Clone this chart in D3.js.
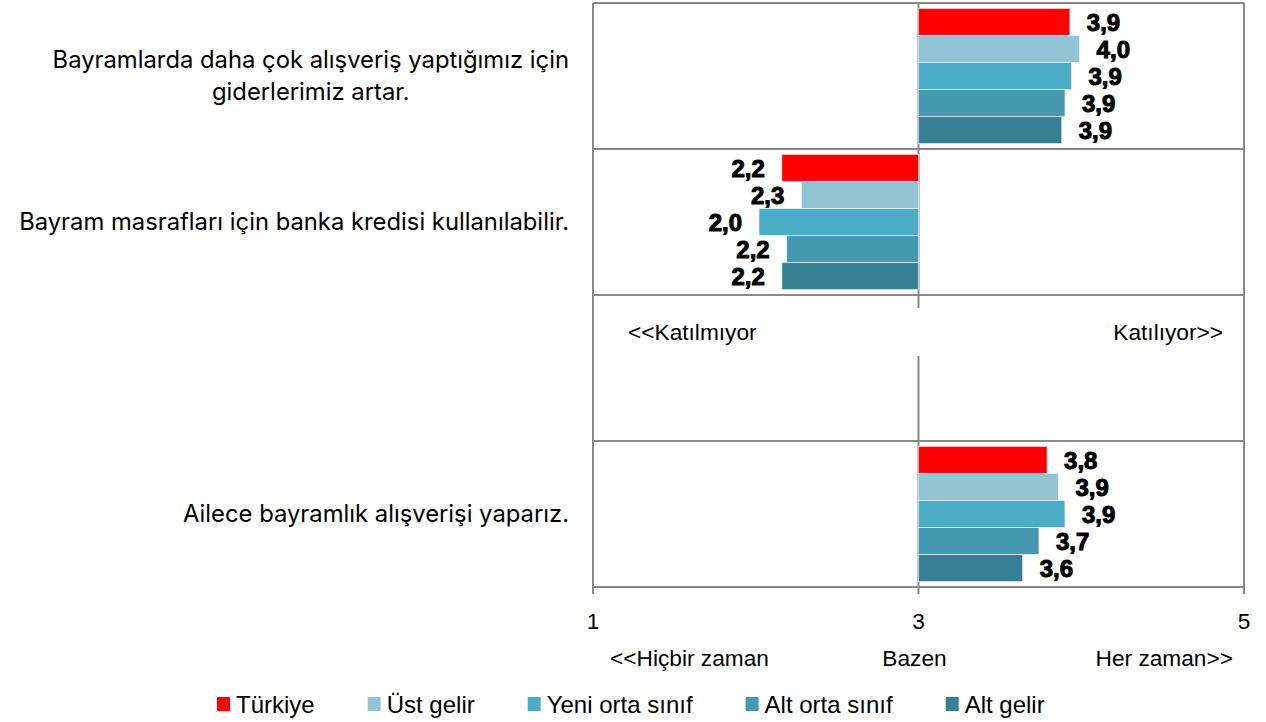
<!DOCTYPE html>
<html lang="tr">
<head>
    <meta charset="UTF-8">
    <title>Bayram harcamaları</title>
    <script src="https://d3js.org/d3.v7.min.js"></script>
    <style>
        body { margin: 0; background: #fff; }
        .cat { font-family: Inter, "Liberation Sans", sans-serif; font-size: 23.8px; fill: #000; }
        .ax { font-family: "Liberation Sans", Arial, sans-serif; font-size: 22.7px; fill: #000; }
        .leg { font-family: "Liberation Sans", Arial, sans-serif; font-size: 24px; fill: #000; }
        .val { font-family: "Liberation Sans", Arial, sans-serif; font-size: 24px; font-weight: bold; fill: #000; stroke: #000; stroke-width: 1px; }
    </style>
</head>
<body>
    <div id="chart"></div>

    <script>
        // categories (third row is the empty spacer band in the original)
        const categories = [
            ["Bayramlarda daha çok alışveriş yaptığımız için", "giderlerimiz artar."],
            ["Bayram masrafları için banka kredisi kullanılabilir."],
            [""],
            ["Ailece bayramlık alışverişi yaparız."]
        ];
        const series = ["Türkiye", "Üst gelir", "Yeni orta sınıf", "Alt orta sınıf", "Alt gelir"];
        const colors = ["#ff0000", "#93c4d6", "#4bacc6", "#4599b0", "#378094"];

        // mean scores per category, one array per series
        const turkiye    = [3.93, 2.16, null, 3.79];
        const ustGelir   = [3.99, 2.28, null, 3.86];
        const yeniOrta   = [3.94, 2.02, null, 3.90];
        const altOrta    = [3.90, 2.19, null, 3.74];
        const altGelir   = [3.88, 2.16, null, 3.64];
        const seriesValues = [turkiye, ustGelir, yeniOrta, altOrta, altGelir];

        const tickValues = [1, 3, 5];
        const bottomLabels = ["<<Hiçbir zaman", "Bazen", "Her zaman>>"];
        const middleLabels = ["<<Katılmıyor", "Katılıyor>>"];

        const W = 1266, H = 722;
        const plot = { left: 593, right: 1244, top: 3, bottom: 587 };

        const svg = d3.select("#chart").append("svg")
            .attr("width", W).attr("height", H);

        const x = d3.scaleLinear().domain([1, 5]).range([plot.left, plot.right]);
        const catKeys = categories.map((c, i) => "c" + i);
        const y0 = d3.scaleBand().domain(catKeys).range([plot.top, plot.bottom]);
        const y1 = d3.scaleBand().domain(series).range([0, y0.bandwidth()]).paddingOuter(0.2);

        const grid = "#898989";

        // horizontal grid lines at category boundaries
        const bounds = catKeys.map(k => y0(k)).concat([plot.bottom]);
        svg.append("g").selectAll("line").data(bounds).join("line")
            .attr("x1", plot.left).attr("x2", plot.right)
            .attr("y1", d => d).attr("y2", d => d)
            .attr("stroke", grid).attr("stroke-width", 2);

        // vertical grid lines + ticks
        svg.append("g").selectAll("line").data(tickValues).join("line")
            .attr("x1", d => x(d)).attr("x2", d => x(d))
            .attr("y1", plot.top).attr("y2", plot.bottom + 7)
            .attr("stroke", grid).attr("stroke-width", 2);

        // bars
        const fmt = v => d3.format(".1f")(v).replace(".", ",");
        series.forEach((s, si) => {
            const rows = seriesValues[si]
                .map((v, ci) => ({ v, key: catKeys[ci] }))
                .filter(d => d.v !== null);
            const g = svg.append("g");
            g.selectAll("rect").data(rows).join("rect")
                .attr("x", d => Math.min(x(3), x(d.v)))
                .attr("width", d => Math.abs(x(d.v) - x(3)))
                .attr("y", d => y0(d.key) + y1(s))
                .attr("height", y1.bandwidth())
                .attr("fill", colors[si])
                .attr("stroke", "#fff").attr("stroke-opacity", 0.6).attr("stroke-width", 1);
            g.selectAll("text").data(rows).join("text")
                .attr("class", "val")
                .attr("x", d => d.v >= 3 ? x(d.v) + 17 : x(d.v) - 17)
                .attr("text-anchor", d => d.v >= 3 ? "start" : "end")
                .attr("y", d => y0(d.key) + y1(s) + y1.bandwidth() / 2 + 9)
                .text(d => fmt(d.v));
        });

        // text box in the empty band (hides the centre line behind it)
        const emptyTop = y0("c2");
        svg.append("rect")
            .attr("x", x(1) + 8).attr("width", x(5) - x(1) - 16)
            .attr("y", emptyTop + 13).attr("height", 48)
            .attr("fill", "#fff");
        svg.append("text").attr("class", "ax")
            .attr("x", x(1) + 35).attr("y", emptyTop + 45)
            .text(middleLabels[0]);
        svg.append("text").attr("class", "ax")
            .attr("x", x(5) - 21).attr("y", emptyTop + 45)
            .attr("text-anchor", "end")
            .text(middleLabels[1]);

        // category labels
        const labelRight = 569;
        categories.forEach((lines, i) => {
            const cy = y0(catKeys[i]) + y0.bandwidth() / 2;
            const lh = 32;
            const t = svg.append("g");
            const texts = lines.map((ln, li) => t.append("text")
                .attr("class", "cat")
                .attr("y", cy + (li - (lines.length - 1) / 2) * lh + 8)
                .text(ln));
            const widths = texts.map(tx => tx.node().getComputedTextLength());
            const maxW = d3.max(widths);
            texts.forEach(tx => tx.attr("text-anchor", "middle").attr("x", labelRight - maxW / 2));
        });

        // tick labels
        svg.append("g").selectAll("text").data(tickValues).join("text")
            .attr("class", "ax")
            .attr("x", d => x(d)).attr("y", plot.bottom + 42)
            .attr("text-anchor", "middle")
            .text(d => d);

        // bottom scale descriptions
        svg.append("text").attr("class", "ax")
            .attr("x", x(1) + 17).attr("y", plot.bottom + 79).text(bottomLabels[0]);
        svg.append("text").attr("class", "ax")
            .attr("x", x(3) - 4).attr("y", plot.bottom + 79)
            .attr("text-anchor", "middle").text(bottomLabels[1]);
        svg.append("text").attr("class", "ax")
            .attr("x", x(5) - 11).attr("y", plot.bottom + 79)
            .attr("text-anchor", "end").text(bottomLabels[2]);

        // legend
        const legend = svg.append("g");
        let lx = 217;
        series.forEach((s, i) => {
            legend.append("rect")
                .attr("x", lx).attr("y", 697)
                .attr("width", 13).attr("height", 14)
                .attr("fill", colors[i]);
            const t = legend.append("text").attr("class", "leg")
                .attr("x", lx + 19).attr("y", 713)
                .text(s);
            lx += 19 + t.node().getComputedTextLength() + 53;
        });
    </script>
</body>
</html>
